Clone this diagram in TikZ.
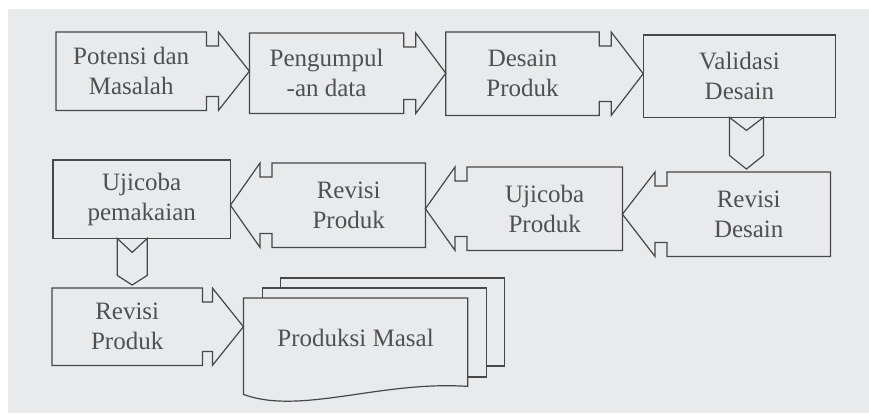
\documentclass[tikz,border=0pt]{standalone}
\usepackage{fontspec}
\setmainfont{Liberation Serif}
\usetikzlibrary{calc, positioning, backgrounds}
\definecolor{paper}{HTML}{E8EAEC}
\definecolor{ink}{HTML}{474747}
\definecolor{inktext}{HTML}{505050}
\tikzset{
  stage/.style = {rectangle, anchor=north west, align=center, inner sep=2pt,
                  text=inktext, font=\fontsize{25}{30}\selectfont},
  frame/.style = {draw=ink, line width=1.2pt, line join=miter},
  sheet/.style = {draw=ink, line width=1.2pt, fill=paper}
}

\begin{document}
\begin{tikzpicture}[x=1pt, y=-1pt]

\useasboundingbox (0,0) rectangle (869,413);

% Row 1
\node[stage, minimum width=150pt, minimum height=78pt] at (56,32) (pot) {Potensi dan\\Masalah};
\node[stage, minimum width=154pt, minimum height=80pt] at ($(pot.north east) + (43,1)$) (peng) {Pengumpul\\-an data};
\node[stage, minimum width=153pt, minimum height=83pt] at ($(peng.north east) + (42,-1)$) (des) {Desain\\Produk};
\node[stage, minimum width=192pt, minimum height=82pt] at ($(des.north east) + (44,3)$) (val) {Validasi\\Desain};

% Row 2
\node[stage, minimum width=163pt, minimum height=84pt] at (667,172) (revd) {Revisi\\Desain};
\node[stage, minimum width=155pt, minimum height=83pt] at (467,167) (ujip) {Ujicoba\\Produk};
\node[stage, minimum width=153pt, minimum height=84pt] at (272,163) (revp) {Revisi\\Produk};
\node[stage, minimum width=177pt, minimum height=78pt] at (53,160) (ujipm) {Ujicoba\\pemakaian};

% Row 3
\node[stage, minimum width=150pt, minimum height=77pt] at (52,288) (revpb) {Revisi\\Produk};
\node[stage, minimum width=224pt, minimum height=80pt] at ($(revpb.north east) + (41,10)$) (prod) {Produksi Masal};

% Paper and document stack
\begin{scope}[on background layer]
\fill[white] (0,0) rectangle (869,413);
\fill[paper] (8,9) rectangle (869,413);
\draw[sheet] ($(prod.north west) + (37,-20)$) rectangle ++(224,88);
\draw[sheet] ($(prod.north west) + (19,-10)$) rectangle ++(224,89);
\draw[sheet] (prod.north west) -- (prod.north east) -- ($(prod.south east) + (0,8)$)
    .. controls ($(prod.south east) + (-87,2)$) and ($(prod.south west) + (57,37)$)
    .. ($(prod.south west) + (0,16)$) -- cycle;
\end{scope}

% Boxes with arrow heads pointing right
\draw[frame] (pot.north west) -- (pot.north east) -- ++(0,14) -- ++(12,0) -- ++(0,-14)
    -- (peng.west |- pot.center) -- ($(pot.south east) + (12,0)$) -- ++(0,-14) -- ++(-12,0)
    -- (pot.south east) -- (pot.south west) -- cycle;

\draw[frame] (peng.north west) -- (peng.north east) -- ++(0,14) -- ++(12,0) -- ++(0,-14)
    -- (des.west |- peng.center) -- ($(peng.south east) + (12,0)$) -- ++(0,-14) -- ++(-12,0)
    -- (peng.south east) -- (peng.south west) -- cycle;

\draw[frame] (des.north west) -- (des.north east) -- ++(0,14) -- ++(12,0) -- ++(0,-14)
    -- (val.west |- des.center) -- ($(des.south east) + (12,0)$) -- ++(0,-14) -- ++(-12,0)
    -- (des.south east) -- (des.south west) -- cycle;

\draw[frame] (val.north west) rectangle (val.south east);

% Chevron down
\draw[frame] ($(val.south) + (-10,0)$) -- ++(17,13) -- ++(17,-13) -- ++(0,38)
    -- ($(val.south |- revd.north) + (7,-3)$) -- ($(val.south) + (-10,38)$) -- cycle;

% Boxes with arrow heads pointing left
\draw[frame] (revd.north east) -- (revd.north west) -- ++(0,14) -- ++(-12,0) -- ++(0,-14)
    -- (ujip.east |- revd.center) -- ($(revd.south west) + (-12,0)$) -- ++(0,-14) -- ++(12,0)
    -- (revd.south west) -- (revd.south east) -- cycle;

\draw[frame] (ujip.north east) -- (ujip.north west) -- ++(0,14) -- ++(-12,0) -- ++(0,-14)
    -- (revp.east |- ujip.center) -- ($(ujip.south west) + (-12,0)$) -- ++(0,-14) -- ++(12,0)
    -- (ujip.south west) -- (ujip.south east) -- cycle;

\draw[frame] (revp.north east) -- (revp.north west) -- ++(0,14) -- ++(-12,0) -- ++(0,-14)
    -- (ujipm.east |- revp.center) -- ($(revp.south west) + (-12,0)$) -- ++(0,-14) -- ++(12,0)
    -- (revp.south west) -- (revp.south east) -- cycle;

\draw[frame] (ujipm.north west) rectangle (ujipm.south east);

% Chevron down
\draw[frame] ($(ujipm.south) + (-24.5,0)$) -- ++(15,14) -- ++(15,-14) -- ++(0,37)
    -- ($(ujipm.south |- revpb.north) + (-9.5,-3)$) -- ($(ujipm.south) + (-24.5,37)$) -- cycle;

% Last step into the stack
\draw[frame] (revpb.north west) -- (revpb.north east) -- ++(0,14) -- ++(10,0) -- ++(0,-14)
    -- (prod.west |- revpb.center) -- ($(revpb.south east) + (10,0)$) -- ++(0,-14) -- ++(-10,0)
    -- (revpb.south east) -- (revpb.south west) -- cycle;

\end{tikzpicture}
\end{document}
